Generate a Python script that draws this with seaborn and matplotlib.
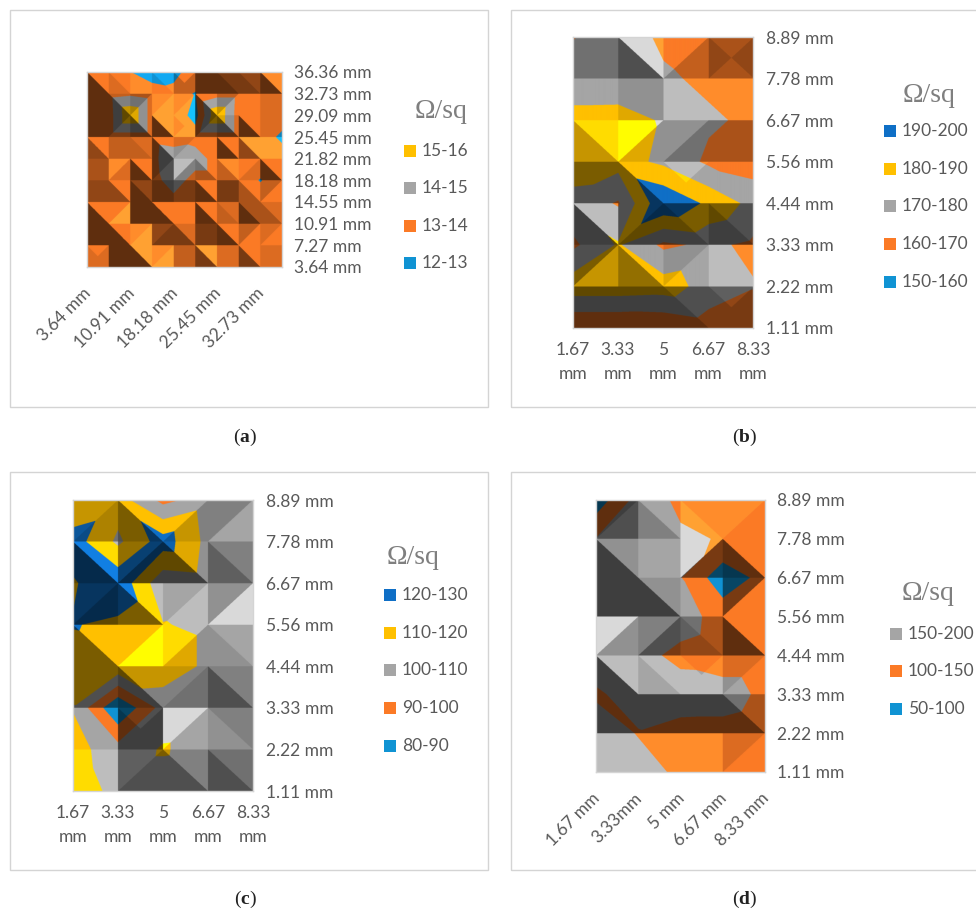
import numpy as np
import pandas as pd
import matplotlib
matplotlib.use("Agg")
import matplotlib.pyplot as plt
import matplotlib.tri as mtri
from matplotlib.colors import ListedColormap, BoundaryNorm, to_rgb
from matplotlib.patches import Rectangle
import seaborn as sns

W, H = 976, 916

# surface values at the grid nodes, top row first
z_a = [
    [13.10, 13.05, 13.02, 12.50, 12.70, 13.50, 13.50, 13.50, 13.50, 13.50],
    [13.50, 13.60, 13.80, 13.50, 13.30, 12.95, 13.60, 13.60, 13.50, 13.50],
    [13.50, 13.50, 15.90, 13.50, 13.70, 12.60, 15.90, 13.50, 13.50, 13.50],
    [13.50, 13.50, 13.50, 13.50, 13.20, 13.50, 13.50, 13.50, 13.50, 12.80],
    [13.50, 13.50, 13.50, 13.60, 14.95, 14.60, 13.50, 13.50, 13.50, 13.50],
    [13.50, 13.50, 13.50, 13.50, 14.60, 13.50, 13.50, 13.50, 12.95, 13.50],
    [13.50, 13.50, 13.50, 13.50, 13.60, 13.50, 13.50, 13.50, 13.50, 13.50],
    [13.50, 13.50, 13.50, 13.50, 13.50, 13.50, 13.50, 13.50, 13.50, 13.50],
    [13.50, 13.50, 13.50, 13.50, 13.50, 13.50, 13.50, 13.50, 13.50, 13.50],
    [13.50, 13.50, 13.50, 13.50, 13.50, 13.50, 13.50, 13.50, 13.50, 13.50],
]
z_b = [
    [169.5, 176.0, 168.0, 165.0, 165.0],
    [175.0, 175.0, 171.5, 168.0, 166.0],
    [182.8, 183.0, 179.3, 171.5, 168.0],
    [185.0, 184.0, 178.0, 168.0, 165.0],
    [176.7, 169.0, 199.0, 188.0, 176.6],
    [168.0, 181.0, 168.0, 172.0, 168.0],
    [186.0, 186.0, 185.0, 176.0, 170.5],
    [160.0, 160.0, 161.0, 165.0, 163.0],
]
z_c = [
    [110.5, 115.0, 97.0, 105.0, 105.0],
    [125.0, 108.0, 125.0, 107.0, 105.0],
    [119.0, 127.5, 103.0, 105.0, 105.0],
    [120.5, 118.0, 110.5, 108.0, 107.0],
    [116.0, 117.0, 116.0, 108.0, 106.0],
    [109.5, 80.5, 104.0, 105.0, 105.0],
    [114.0, 104.0, 111.0, 105.0, 104.0],
    [119.5, 105.0, 105.0, 104.0, 104.0],
]
z_d = [
    [70, 170, 143, 130, 125],
    [152, 170, 155, 148, 120],
    [170, 170, 152.5, 69, 117],
    [170, 170, 172, 129, 125],
    [170, 165, 138, 125, 125],
    [145, 165, 172, 170, 140],
    [170, 148, 135, 135, 125],
    [170, 165, 143, 125, 130],
]

# facet brightness per cell (north, east, south, west), 0 dark - 9 light
shade_a = [
    ["6600", "6655", "7777", "7766", "6444", "0000", "1100", "2211", "7700"],
    ["0000", "4400", "3553", "7887", "7887", "6600", "4664", "6666", "5555"],
    ["0000", "0110", "5500", "8800", "8887", "0110", "5500", "6600", "5555"],
    ["6622", "4444", "5544", "6600", "5665", "6666", "6600", "8822", "8888"],
    ["3333", "7557", "6600", "0110", "7447", "6633", "7744", "6556", "6600"],
    ["2222", "6622", "2200", "0000", "1111", "6600", "1111", "6633", "4664"],
    ["6600", "6886", "0000", "6600", "6666", "6600", "5544", "3300", "5533"],
    ["0000", "6600", "7887", "2112", "5511", "1111", "6600", "4664", "5665"],
    ["6555", "0000", "8800", "7887", "4444", "8811", "5555", "6611", "5555"],
]
shade_b = [
    ["3333", "8811", "6446", "3232"],
    ["6666", "5555", "7777", "7777"],
    ["7744", "8558", "5335", "3333"],
    ["1111", "6611", "7666", "6666"],
    ["7700", "1001", "1100", "1100"],
    ["1441", "6622", "5665", "7777"],
    ["0000", "0000", "1100", "2111"],
]
shade_c = [
    ["4334", "6611", "6446", "4664"],
    ["7700", "2002", "5500", "4422"],
    ["1001", "7711", "6776", "5885"],
    ["6611", "6886", "7557", "6655"],
    ["1111", "4400", "4334", "4411"],
    ["6666", "1000", "8668", "4455"],
    ["7777", "2112", "4411", "3311"],
]
shade_d = [
    ["0110", "6644", "7788", "7667"],
    ["5500", "6666", "8118", "6600"],
    ["0000", "5500", "6666", "1661"],
    ["8558", "4114", "3322", "6600"],
    ["7700", "7766", "6777", "5665"],
    ["0000", "0000", "0000", "3300"],
    ["7777", "7777", "7777", "5665"],
]

levels_a = [12, 13, 14, 15, 16]
levels_b = [150, 160, 170, 180, 190, 200]
levels_c = [80, 90, 100, 110, 120, 130]
levels_d = [50, 100, 150, 200]

legend_a = ["15-16", "14-15", "13-14", "12-13"]
legend_b = ["190-200", "180-190", "170-180", "160-170", "150-160"]
legend_c = ["120-130", "110-120", "100-110", "90-100", "80-90"]
legend_d = ["150-200", "100-150", "50-100"]

ylabels_a = ["36.36 mm", "32.73 mm", "29.09 mm", "25.45 mm", "21.82 mm",
             "18.18 mm", "14.55 mm", "10.91 mm", "7.27 mm", "3.64 mm"]
ylabels_bcd = ["8.89 mm", "7.78 mm", "6.67 mm", "5.56 mm",
               "4.44 mm", "3.33 mm", "2.22 mm", "1.11 mm"]
xlabels_a = ["3.64 mm", "10.91 mm", "18.18 mm", "25.45 mm", "32.73 mm"]
xlabels_bc = ["1.67\nmm", "3.33\nmm", "5\nmm", "6.67\nmm", "8.33\nmm"]
xlabels_d = ["1.67 mm", "3.33mm", "5 mm", "6.67 mm", "8.33 mm"]

BLUE = "#1093D3"
ORANGE = "#FB7A26"
GRAY = "#A5A5A5"
YELLOW = "#FFC000"
NAVY = "#0F6FC6"
TEXT = "#595959"

factors = np.array([0.38, 0.48, 0.58, 0.68, 0.78, 0.88, 1.0, 1.15, 1.32, 1.55])

sns.set_style("white")
plt.rcParams["font.family"] = ["Lato", "DejaVu Sans"]
plt.rcParams["mathtext.fontset"] = "custom"
plt.rcParams["mathtext.bf"] = "Liberation Serif:bold"
plt.rcParams["mathtext.rm"] = "Liberation Serif"

fig = plt.figure(figsize=(W / 100, H / 100), dpi=100)


def px_rect(x0, y0, x1, y1):
    return [x0 / W, 1 - y1 / H, (x1 - x0) / W, (y1 - y0) / H]


def cell_centre(s, tl, tr, bl, br):
    # the facet crease decides the height of the cell centre
    if s[0] == s[1] and s[2] == s[3] and s[0] != s[2]:
        return (tl + br) / 2
    if s[0] == s[3] and s[1] == s[2] and s[0] != s[1]:
        return (tr + bl) / 2
    if abs(tl - br) < abs(tr - bl):
        return (tl + br) / 2
    return (tr + bl) / 2


def draw_surface(box, z, shade, levels, colors, xlabels, xstep, ylabels, xrot):
    z = np.array(z, dtype=float)
    nrow, ncol = z.shape
    ax = fig.add_axes(px_rect(*box))

    # cell means give the base heatmap and the axes
    means = (z[:-1, :-1] + z[1:, :-1] + z[:-1, 1:] + z[1:, 1:]) / 4
    sns.heatmap(pd.DataFrame(means), ax=ax, cbar=False, cmap=ListedColormap(colors),
                norm=BoundaryNorm(levels, len(colors)), xticklabels=False, yticklabels=False)

    # nodes plus one centre per cell, four triangles per cell
    xs, ys = np.meshgrid(np.arange(ncol), np.arange(nrow))
    px = list(xs.ravel().astype(float))
    py = list(ys.ravel().astype(float))
    pz = list(z.ravel())
    tris = []
    vals = []
    for r in range(nrow - 1):
        for c in range(ncol - 1):
            k = len(px)
            tl = r * ncol + c
            tr = tl + 1
            bl = tl + ncol
            br = bl + 1
            px.append(c + 0.5)
            py.append(r + 0.5)
            pz.append(cell_centre(shade[r][c], z[r, c], z[r, c + 1], z[r + 1, c], z[r + 1, c + 1]))
            tris += [[tl, tr, k], [tr, br, k], [br, bl, k], [bl, tl, k]]
            vals += [int(d) for d in shade[r][c]]
    tri = mtri.Triangulation(px, py, tris)
    finder = tri.get_trifinder()
    interp = mtri.LinearTriInterpolator(tri, pz, trifinder=finder)

    # sample the surface finer than the screen, colour = band colour * facet brightness
    nx = int(box[2] - box[0]) * 4
    ny = int(box[3] - box[1]) * 4
    gx = (np.arange(nx) + 0.5) / nx * (ncol - 1)
    gy = (np.arange(ny) + 0.5) / ny * (nrow - 1)
    mx, my = np.meshgrid(gx, gy)
    zi = np.ma.filled(interp(mx, my), levels[0])
    band = np.clip(np.digitize(zi, levels) - 1, 0, len(colors) - 1)
    rgb = np.array([to_rgb(col) for col in colors])[band]
    f = factors[np.array(vals)[finder(mx, my)]]
    ax.imshow(np.clip(rgb * f[..., None], 0, 1), extent=(0, ncol - 1, nrow - 1, 0),
              aspect="auto", zorder=2)

    ax.set_xlim(0, ncol - 1)
    ax.set_ylim(nrow - 1, 0)
    for s in ax.spines.values():
        s.set_visible(True)
        s.set_color("#D4D4D4")
        s.set_linewidth(1)
        s.set_zorder(5)

    ax.yaxis.tick_right()
    ax.set_yticks(np.arange(nrow))
    ax.set_yticklabels(ylabels, color=TEXT, fontsize=12.5)
    ticks = np.arange(0, ncol, xstep)
    if xrot:
        # rotated labels sit a little left of and below their node
        ax.set_xticks([])
        for t, lab in zip(ticks, xlabels):
            ax.annotate(lab, xy=(t, nrow - 1), xycoords="data", xytext=(-3, -13),
                        textcoords="offset points", color=TEXT, fontsize=12.5, rotation=45,
                        ha="right", va="top", rotation_mode="anchor", annotation_clip=False)
    else:
        ax.set_xticks(ticks)
        ax.set_xticklabels(xlabels, color=TEXT, fontsize=12.5, linespacing=1.6)
    ax.tick_params(axis="y", length=0, pad=9, labelrotation=0)
    ax.tick_params(axis="x", length=0, pad=10)
    return ax


def draw_legend(title_xy, sq_x, ys, labels, colors):
    fig.text(title_xy[0] / W, 1 - title_xy[1] / H, "Ω/sq", family="Liberation Serif",
             fontsize=20, color="#7F7F7F", ha="center", va="center")
    for y, lab, col in zip(ys, labels, colors):
        fig.add_artist(Rectangle((sq_x / W, 1 - (y + 6) / H), 12 / W, 12 / H,
                                 transform=fig.transFigure, facecolor=col, edgecolor="none"))
        fig.text((sq_x + 18) / W, 1 - y / H, lab, fontsize=12.5, color=TEXT, va="center")


# panel frames
for x0, y0, x1, y1 in [(10, 10, 488, 407), (511, 10, 990, 407),
                       (10, 472, 488, 870), (511, 472, 990, 870)]:
    fig.add_artist(Rectangle((x0 / W, 1 - y1 / H), (x1 - x0) / W, (y1 - y0) / H,
                             transform=fig.transFigure, facecolor="none",
                             edgecolor="#D4D4D4", linewidth=1))

draw_surface((87, 72, 282, 267), z_a, shade_a, levels_a, [BLUE, ORANGE, GRAY, YELLOW],
             xlabels_a, 2, ylabels_a, True)
draw_surface((573, 37, 753, 328), z_b, shade_b, levels_b, [BLUE, ORANGE, GRAY, YELLOW, NAVY],
             xlabels_bc, 1, ylabels_bcd, False)
draw_surface((73, 500, 253, 791), z_c, shade_c, levels_c, [BLUE, ORANGE, GRAY, YELLOW, NAVY],
             xlabels_bc, 1, ylabels_bcd, False)
draw_surface((596, 500, 765, 772), z_d, shade_d, levels_d, [BLUE, ORANGE, GRAY],
             xlabels_d, 1, ylabels_bcd, True)

draw_legend((441, 111), 404, [151, 188, 226, 263], legend_a, [YELLOW, GRAY, ORANGE, BLUE])
draw_legend((929, 95), 884, [131, 169, 206, 244, 282], legend_b,
            [NAVY, YELLOW, GRAY, ORANGE, BLUE])
draw_legend((413, 558), 384, [595, 633, 670, 708, 746], legend_c,
            [NAVY, YELLOW, GRAY, ORANGE, BLUE])
draw_legend((928, 594), 890, [634, 671, 709], legend_d, [GRAY, ORANGE, BLUE])

# captions under the panels
for x, y, letter in [(245, 437, "a"), (745, 437, "b"), (245, 899, "c"), (745, 899, "d")]:
    fig.text(x / W, 1 - y / H, "(" + r"$\mathbf{" + letter + "}$" + ")",
             family="Liberation Serif", fontsize=14, color="#222222",
             ha="center", va="center")

fig.savefig("out.png", dpi=100)
